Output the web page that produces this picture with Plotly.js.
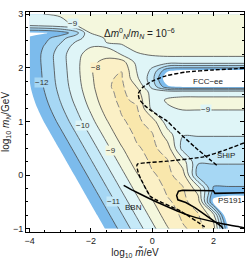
<!DOCTYPE html>
<html><head><meta charset="utf-8">
<script src="https://cdn.plot.ly/plotly-3.0.1.min.js"></script>
<style>html,body{margin:0;padding:0;background:#fff}</style>
</head><body><div id="plot" style="width:249px;height:259px"></div>
<script>
// grid of log10 m~ (x) and log10 mN (y)
const xGrid = [-4,-3.5,-3,-2.5,-2,-1.5,-1,-0.5,0,0.5,1,1.5,2,2.5,3];
const yGrid = [-1,-0.75,-0.5,-0.25,0,0.25,0.5,0.75,1,1.25,1.4,1.55,1.65,1.8,1.95,2.1,2.25,2.4,2.55,2.65,2.8,3];
// estimated contour values (one row per yGrid value)
const zRows = [
 [-18.9,-17.7,-16.5,-15.3,-14.1,-12.9,-11.7,-10.5,-9.3,-8.1,-7.1,-6.75,-7.5,-13.3,-16],
 [-18.3,-17.1,-15.9,-14.7,-13.5,-12.3,-11.1,-9.9,-8.7,-7.5,-6.85,-6.9,-8.5,-15,-15],
 [-17.7,-16.5,-15.3,-14.1,-12.9,-11.7,-10.5,-9.3,-8.1,-7.1,-6.75,-7.5,-13.3,-13.8,-13.8],
 [-17.1,-15.9,-14.7,-13.5,-12.3,-11.1,-9.9,-8.7,-7.5,-6.85,-6.9,-8.5,-12.1,-12.1,-12.1],
 [-16.5,-15.3,-14.1,-12.9,-11.7,-10.5,-9.3,-8.1,-7.1,-6.75,-7.5,-11.45,-11.45,-11.45,-11.45],
 [-15.9,-14.7,-13.5,-12.3,-11.1,-9.9,-8.7,-7.5,-6.85,-6.9,-8.5,-10.9,-10.9,-10.9,-10.9],
 [-15.3,-14.1,-12.9,-11.7,-10.5,-9.3,-8.1,-7.1,-6.75,-7.5,-10.4,-10.4,-10.4,-10.4,-10.4],
 [-14.7,-13.5,-12.3,-11.1,-9.9,-8.7,-7.5,-6.85,-6.9,-8.5,-9.95,-9.95,-9.95,-9.95,-9.95],
 [-14.1,-12.9,-11.7,-10.5,-9.3,-8.1,-7.1,-6.75,-7.5,-9.6,-9.6,-9.6,-9.6,-9.6,-9.6],
 [-13.6,-12.4,-11.2,-10.02,-8.8,-7.6,-6.9,-6.9,-9.3,-9.1,-8.9,-8.9,-8.9,-8.9,-8.9],
 [-13.36,-12.16,-10.96,-9.76,-8.56,-7.36,-6.8,-7.2,-9.4,-8.9,-8.75,-8.75,-8.75,-8.75,-8.75],
 [-13.17,-11.97,-10.77,-9.57,-8.37,-7.2,-6.8,-7.6,-9.5,-9.4,-9.4,-9.4,-9.4,-9.4,-9.4],
 [-13.07,-11.87,-10.67,-9.47,-8.27,-7.1,-6.8,-8.05,-10.3,-12.8,-13.3,-13.3,-13.3,-13.3,-13.3],
 [-12.98,-11.78,-10.58,-9.38,-8.18,-7.1,-6.9,-8.8,-10.6,-14,-15,-15,-15,-15,-15],
 [-12.93,-11.73,-10.53,-9.33,-8.13,-7.15,-7.02,-9.05,-10.2,-12.8,-13.2,-13.2,-13.2,-13.2,-13.2],
 [-12.88,-11.68,-10.48,-9.28,-8.3,-7.6,-7.5,-9.3,-9.6,-9.6,-9.6,-9.6,-9.6,-9.6,-9.6],
 [-12.88,-11.68,-10.48,-9.28,-8.6,-8.4,-9.05,-9.1,-8.9,-8.8,-8.8,-8.8,-8.8,-8.8,-8.8],
 [-12.9,-11.9,-10.8,-9.6,-9.05,-9.1,-9.1,-8.7,-8.7,-8.6,-8.6,-8.6,-8.6,-8.6,-8.6],
 [-12.9,-12.3,-11.4,-10.3,-9.6,-8.9,-8.7,-8.6,-8.6,-8.55,-8.55,-8.55,-8.55,-8.55,-8.55],
 [-13.2,-13.1,-12.6,-11.5,-8.95,-8.8,-8.6,-8.55,-8.55,-8.5,-8.5,-8.5,-8.5,-8.5,-8.5],
 [-9.7,-9.5,-9.3,-8.9,-8.7,-8.6,-8.55,-8.55,-8.5,-8.5,-8.5,-8.5,-8.5,-8.5,-8.5],
 [-9.5,-8.95,-8.9,-8.7,-8.55,-8.5,-8.5,-8.5,-8.5,-8.5,-8.5,-8.5,-8.5,-8.5,-8.5]
];
// band colours: below -13, [-13,-12], ..., [-8,-7], above -7
const bandColors = ['#ffffff','rgb(124,187,236)','rgb(166,215,244)','rgb(197,233,248)','rgb(223,245,247)','rgb(244,247,221)','rgb(251,240,198)','rgb(249,231,172)'];

// experimental curves
const fccX = [3.0,2.0,1.1,0.45,0.0,-0.3,-0.45,-0.42,-0.25,0.1,0.5,0.75,1.4,2.12];
const fccY = [1.99,1.96,1.92,1.85,1.75,1.64,1.52,1.42,1.3,1.15,1.0,0.86,0.52,0.18];
const shipX = [3.0,2.4,1.68,0.5,-0.2,-0.47,-0.5,-0.44,-0.05,0.93,1.68,1.78];
const shipY = [0.6,0.47,0.34,0.26,0.23,0.21,0.17,0.02,-0.4,-0.67,-0.95,-1.0];
const bbnX = [-0.93,-0.54,0.15,1.25,2.33,2.92,3.0];
const bbnY = [-0.19,-0.31,-0.5,-0.76,-0.91,-0.97,-0.98];
const psX = [3.0,2.05,2.0,1.0,0.86,0.8,0.84,1.1,1.41,1.8,2.25,2.32];
const psY = [-0.33,-0.34,-0.29,-0.28,-0.3,-0.38,-0.46,-0.51,-0.61,-0.77,-0.95,-1.0];

// contour labels
const lblText = ['−12','−11','−10','−9','−9','−8','−9'];
const lblX = [-3.6,-1.25,-2.25,-1.33,-2.6,-1.85,1.75];
const lblY = [1.72,-0.5,0.93,0.45,2.82,2.0,1.22];
const lblBg = [bandColors[2],bandColors[3],bandColors[4],bandColors[5],bandColors[4],bandColors[6],bandColors[4]];

const n = bandColors.length - 1;
const cscale = bandColors.map((c,i)=>[i/n, c]);

const traces = [
 {type:'contour', x:xGrid, y:yGrid, z:zRows, autocontour:false,
  contours:{start:-13,end:-7,size:1,coloring:'fill',showlines:false},
  colorscale:cscale, showscale:false, line:{width:0,smoothing:1}, hoverinfo:'skip'},
 {type:'contour', x:xGrid, y:yGrid, z:zRows, autocontour:false,
  contours:{start:-12,end:-8,size:1,coloring:'none'},
  showscale:false, line:{color:'rgb(70,70,70)',width:0.8,smoothing:1}, hoverinfo:'skip'},
 {type:'contour', x:xGrid, y:yGrid, z:zRows, autocontour:false,
  contours:{start:-7,end:-7,size:1,coloring:'none'},
  showscale:false, line:{color:'rgb(135,135,135)',width:1,dash:'7px,3px',smoothing:1}, hoverinfo:'skip'},
 {type:'scatter', mode:'lines', x:fccX, y:fccY, line:{color:'#000',width:1.4,dash:'4px,2px',shape:'spline',smoothing:0.6}, hoverinfo:'skip'},
 {type:'scatter', mode:'lines', x:shipX, y:shipY, line:{color:'#000',width:1.4,dash:'4px,2px',shape:'spline',smoothing:0.4}, hoverinfo:'skip'},
 {type:'scatter', mode:'lines', x:bbnX, y:bbnY, line:{color:'#000',width:1.5,shape:'spline',smoothing:0.6}, hoverinfo:'skip'},
 {type:'scatter', mode:'lines', x:psX, y:psY, line:{color:'#000',width:1.5}, hoverinfo:'skip'}
];

const font = 'Liberation Sans, Arial, sans-serif';
const annotations = lblText.map((t,i)=>({x:lblX[i], y:lblY[i], text:t, showarrow:false,
  font:{family:font,size:8,color:'#333'}, bgcolor:lblBg[i], borderpad:0}));
annotations.push(
 {x:1.84,y:1.74,text:'FCC−ee',showarrow:false,font:{family:font,size:8,color:'#222'}},
 {x:2.42,y:0.37,text:'SHiP',showarrow:false,font:{family:font,size:8,color:'#222'}},
 {x:2.56,y:-0.47,text:'PS191',showarrow:false,font:{family:font,size:8,color:'#222'}},
 {x:-0.6,y:-0.6,text:'BBN',showarrow:false,font:{family:font,size:8,color:'#222'}},
 {x:-0.4,y:2.64,text:'Δ<i>m</i><sup>0</sup><sub><i>N</i></sub>/<i>m</i><sub><i>N</i></sub> = 10<sup>−6</sup>',showarrow:false,font:{family:font,size:10,color:'#222'}}
);

const axisCommon = {showline:true, linecolor:'#000', linewidth:1, mirror:'allticks', ticks:'inside',
  ticklen:4, tickwidth:1, tickcolor:'#000', showgrid:false, zeroline:false,
  tickfont:{family:font,size:9,color:'#222'}};

const layout = {
 width:249, height:259, margin:{l:26,r:5,t:12,b:27},
 paper_bgcolor:'#fff', plot_bgcolor:'#fff', showlegend:false,
 xaxis: Object.assign({}, axisCommon, {range:[-4.12,3.0], tickvals:[-4,-2,0,2],
   minor:{dtick:0.5,tick0:0,ticks:'inside',ticklen:2,tickcolor:'#000'},
   title:{text:'log<sub>10</sub> <i>m̃</i>/eV', font:{family:font,size:10,color:'#222'}, standoff:4}}),
 yaxis: Object.assign({}, axisCommon, {range:[-1.06,3.04], tickvals:[-1,0,1,2,3],
   minor:{dtick:0.25,tick0:0,ticks:'inside',ticklen:2,tickcolor:'#000'},
   title:{text:'log<sub>10</sub> <i>m</i><sub><i>N</i></sub>/GeV', font:{family:font,size:10,color:'#222'}, standoff:4}}),
 annotations: annotations
};

Plotly.newPlot('plot', traces, layout, {staticPlot:true, displayModeBar:false});
</script></body></html>
